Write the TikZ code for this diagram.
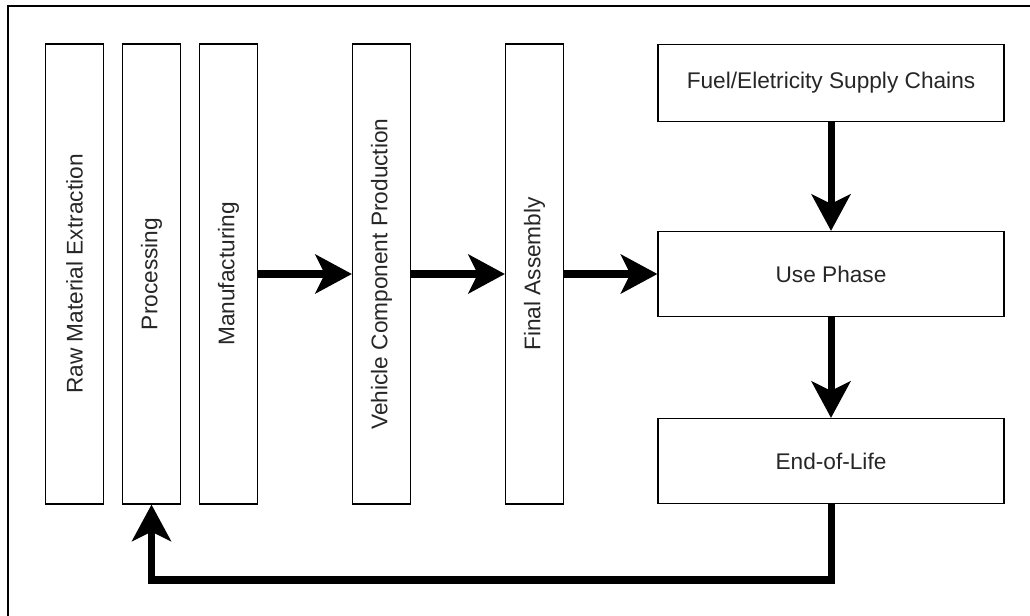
\documentclass[tikz,border=0pt]{standalone}
\usepackage{fontspec}
\setmainfont{Liberation Sans}
\usepackage{graphicx}
\usetikzlibrary{arrows.meta}
\tikzset{
  stage/.style={draw,line width=.8pt,inner sep=0pt,minimum width=1.16cm,minimum height=9.2cm},
  phase/.style={draw,line width=.8pt,inner sep=0pt,minimum width=6.92cm,minimum height=1.7cm},
  flow/.style={line width=4pt,-{Stealth[length=.74cm,width=.8cm,inset=.2cm,line width=0pt]}}
}
\begin{document}
\begin{tikzpicture}[x=.02cm,y=-.02cm,font=\fontsize{12.9}{15}\selectfont,text=black!85]
    \useasboundingbox (0,0) rectangle (1030,615);
    \clip (0,0) rectangle (1030,615);
    \draw[line width=1pt] (8,6) rectangle (1040,625);
    \node[stage] (raw) at (74.5,274) {\rotatebox{90}{Raw Material Extraction}};
    \node[stage] (proc) at (151.5,274) {\rotatebox{90}{Processing}};
    \node[stage] (manu) at (228.5,274) {\rotatebox{90}{Manufacturing}};
    \node[stage] (veh) at (381.5,274) {\rotatebox{90}{Vehicle Component Production}};
    \node[stage] (final) at (534.5,274) {\rotatebox{90}{Final Assembly}};
    \node[phase,minimum height=1.54cm] (fuel) at (831,83) {Fuel/Eletricity Supply Chains};
    \node[phase] (use) at (831,274) {Use Phase};
    \node[phase] (eol) at (831,461) {End-of-Life};
    \coordinate (back) at (151.5,580);
    \draw[flow] (manu) -- (veh);
    \draw[flow] (veh) -- (final);
    \draw[flow] (final) -- (use);
    \draw[flow] (fuel) -- (use);
    \draw[flow] (use) -- (eol);
    \draw[flow] (eol.south) |- (back) -- (proc.south);
\end{tikzpicture}
\end{document}
